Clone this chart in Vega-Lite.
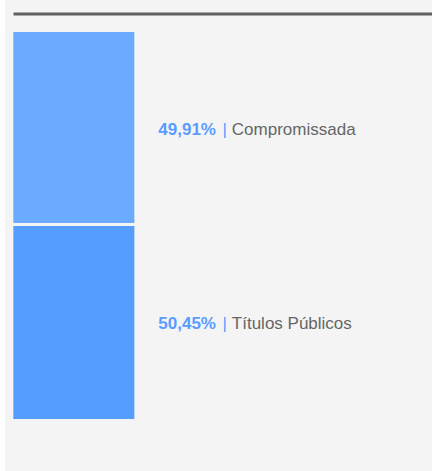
{
  "$schema": "https://vega.github.io/schema/vega-lite/v6.json",
  "width": 427,
  "height": 471,
  "padding": {"left": 5, "top": 0, "right": 0, "bottom": 0},
  "autosize": {"type": "none"},
  "background": "#ffffff",
  "config": {"view": {"fill": "#f4f4f4", "stroke": null}},
  "data": {
    "values": [
      {"carteira": "Carteira", "categoria": "Compromissada", "percentual": 49.91, "rotulo": "49,91%"},
      {"carteira": "Carteira", "categoria": "Títulos Públicos", "percentual": 50.45, "rotulo": "50,45%"}
    ]
  },
  "transform": [
    {"stack": "percentual", "groupby": ["carteira"], "sort": [{"field": "categoria", "order": "ascending"}], "as": ["ini", "fim"]}
  ],
  "encoding": {
    "x": {
      "field": "carteira",
      "type": "nominal",
      "scale": {"range": [8, 427], "paddingInner": 0, "paddingOuter": 1.231, "align": 0},
      "axis": {"orient": "top", "labels": false, "ticks": false, "title": null, "grid": false, "domainColor": "#606060", "domainWidth": 3, "offset": -13.5}
    },
    "y": {
      "field": "ini",
      "type": "quantitative",
      "scale": {"domain": [-7.85, 113.35], "reverse": true, "nice": false, "zero": false},
      "axis": null
    }
  },
  "layer": [
    {
      "mark": {"type": "bar", "width": 124, "xOffset": -9, "stroke": "#f4f4f4", "strokeWidth": 3},
      "encoding": {
        "y2": {"field": "fim"},
        "color": {
          "field": "categoria",
          "type": "nominal",
          "scale": {"domain": ["Compromissada", "Títulos Públicos"], "range": ["#6aaaff", "#559dff"]},
          "legend": null
        }
      }
    },
    {
      "mark": {"type": "text", "align": "left", "baseline": "alphabetic", "dx": 75.5, "dy": 104.3, "font": "Liberation Sans", "fontSize": 17, "fontWeight": "bold", "color": "#5a9cff"},
      "encoding": {"text": {"field": "rotulo"}}
    },
    {
      "mark": {"type": "text", "text": "|", "align": "center", "baseline": "alphabetic", "dx": 141.8, "dy": 104.3, "font": "Liberation Sans", "fontSize": 17, "color": "#5a9cff"},
      "encoding": {}
    },
    {
      "mark": {"type": "text", "align": "left", "baseline": "alphabetic", "dx": 149, "dy": 104.3, "font": "Liberation Sans", "fontSize": 17, "color": "#666666"},
      "encoding": {"text": {"field": "categoria"}}
    }
  ]
}
